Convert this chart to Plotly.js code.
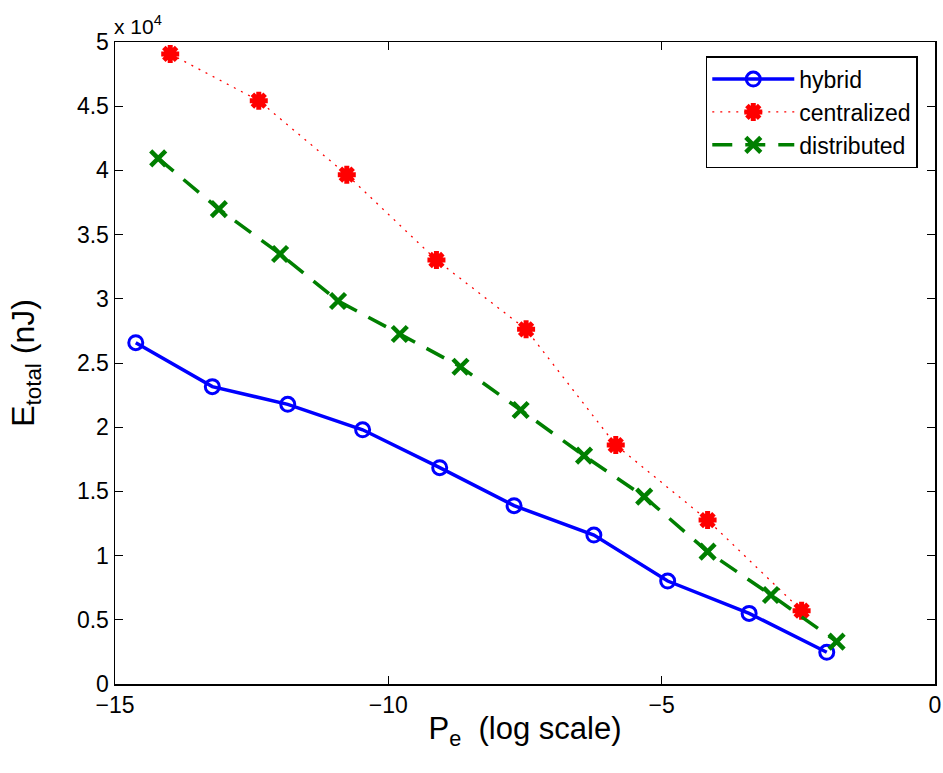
<!DOCTYPE html>
<html>
<head>
<meta charset="utf-8">
<script src="https://cdn.plot.ly/plotly-3.0.1.min.js"></script>
<style>html,body{margin:0;padding:0;background:#fff;}#chart{width:943px;height:773px;}</style>
</head>
<body>
<div id="chart"></div>
<script>
// Data
const hybridX = [-14.62, -13.22, -11.84, -10.47, -9.06, -7.70, -6.24, -4.89, -3.40, -1.98];
const hybridY = [26580, 23160, 21780, 19800, 16850, 13890, 11600, 8020, 5500, 2470];

const centralizedX = [-13.99, -12.37, -10.76, -9.12, -7.48, -5.84, -4.16, -2.44];
const centralizedY = [49070, 45430, 39670, 33020, 27620, 18610, 12770, 5710];

const distributedX = [-14.21, -13.10, -11.98, -10.92, -9.79, -8.68, -7.58, -6.42, -5.32, -4.16, -3.00, -1.80];
const distributedY = [40940, 36990, 33490, 29830, 27260, 24710, 21340, 17780, 14590, 10310, 6930, 3300];

const seriesNames = ['hybrid', 'centralized', 'distributed'];
const xTickVals = [-15, -10, -5, 0];
const yTickVals = [0, 5000, 10000, 15000, 20000, 25000, 30000, 35000, 40000, 45000, 50000];
const yTickText = ['0', '0.5', '1', '1.5', '2', '2.5', '3', '3.5', '4', '4.5', '5'];

const font = 'Liberation Sans, Arial, Helvetica, sans-serif';

const traces = [
  {
    x: hybridX, y: hybridY, name: seriesNames[0], type: 'scatter', mode: 'lines+markers',
    line: {color: '#0000ff', width: 3.5},
    marker: {symbol: 'circle-open', size: 14, color: '#0000ff', line: {width: 3, color: '#0000ff'}}
  },
  {
    x: centralizedX, y: centralizedY, name: seriesNames[1], type: 'scatter', mode: 'lines+markers',
    line: {color: '#ff0000', width: 1.3, dash: '2px,6px'},
    marker: {symbol: 'asterisk-open', size: 15, color: '#ff0000', line: {width: 5, color: '#ff0000'}}
  },
  {
    x: distributedX, y: distributedY, name: seriesNames[2], type: 'scatter', mode: 'lines+markers',
    line: {color: '#007f00', width: 3.5, dash: '20px,13px'},
    marker: {symbol: 'x-thin-open', size: 15, color: '#007f00', line: {width: 4.5, color: '#007f00'}}
  }
];

const layout = {
  width: 943, height: 773,
  paper_bgcolor: '#ffffff', plot_bgcolor: '#ffffff',
  margin: {l: 115, r: 8, t: 42, b: 89},
  font: {family: font, size: 22, color: '#000'},
  showlegend: true,
  legend: {
    x: 0.979, xanchor: 'right', y: 0.978, yanchor: 'top',
    bgcolor: '#ffffff', bordercolor: '#000', borderwidth: 1.5,
    font: {family: font, size: 23, color: '#000'},
    itemwidth: 82, tracegroupgap: 0
  },
  xaxis: {
    range: [-15, 0], tickvals: xTickVals, ticks: 'inside', ticklen: 8, tickwidth: 1, tickcolor: '#000',
    showline: true, linecolor: '#000', linewidth: 1.5, mirror: 'ticks', showgrid: false, zeroline: false,
    tickfont: {family: font, size: 23},
    title: {text: 'P<sub>e</sub>  (log scale)', font: {family: font, size: 31}, standoff: 0}
  },
  yaxis: {
    range: [0, 50000], tickvals: yTickVals, ticktext: yTickText, ticks: 'inside', ticklen: 8, tickwidth: 1, tickcolor: '#000',
    showline: true, linecolor: '#000', linewidth: 1.5, mirror: 'ticks', showgrid: false, zeroline: false,
    tickfont: {family: font, size: 23},
    title: {text: 'E<sub>total</sub> (nJ)', font: {family: font, size: 32}, standoff: 32}
  },
  annotations: [
    {xref: 'paper', yref: 'paper', x: 0, y: 1, xanchor: 'left', yanchor: 'bottom', yshift: 2, xshift: -3,
     text: 'x 10<sup>4</sup>', showarrow: false, font: {family: font, size: 21, color: '#000'}}
  ]
};

Plotly.newPlot('chart', traces, layout, {displayModeBar: false, staticPlot: true});
</script>
</body>
</html>
